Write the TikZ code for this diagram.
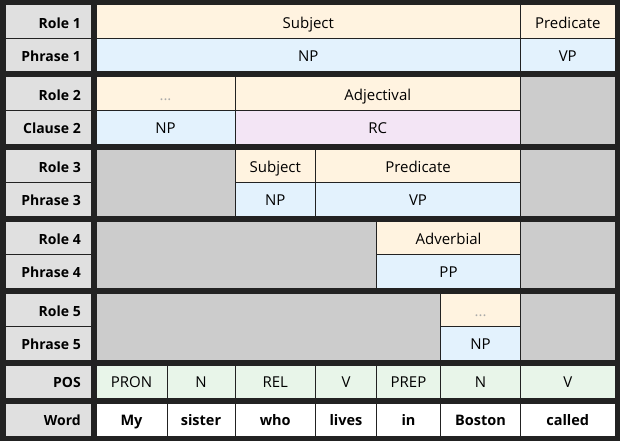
\documentclass[tikz,border=0pt]{standalone}
\usepackage{fontspec}
\setmainfont{Open Sans}
\usetikzlibrary{fit}
\definecolor{bgdark}{HTML}{222222}
\definecolor{lblgray}{HTML}{E0E0E0}
\definecolor{emptygray}{HTML}{CCCCCC}
\definecolor{rolecream}{HTML}{FFF3E0}
\definecolor{phraseblue}{HTML}{E3F2FD}
\definecolor{posgreen}{HTML}{E8F5E9}
\definecolor{rclav}{HTML}{F3E5F5}
\definecolor{dotgray}{HTML}{AAAAAA}
\tikzset{
  cell/.style={draw=bgdark, line width=1pt, inner sep=0pt},
  celltext/.style={inner sep=0pt, anchor=base, font=\fontsize{15}{17}\selectfont, text=black},
  boldtext/.style={inner sep=0pt, anchor=base, font=\bfseries\fontsize{14.5}{17}\selectfont, text=black},
  lblbox/.style={cell, fill=lblgray},
  lbltext/.style={boldtext, font=\bfseries\fontsize{14}{17}\selectfont, anchor=base east},
  rolebox/.style={cell, fill=rolecream},
  phrbox/.style={cell, fill=phraseblue},
  clausebox/.style={cell, fill=rclav},
  posbox/.style={cell, fill=posgreen},
  wordbox/.style={cell, fill=white},
  emptybox/.style={cell, fill=emptygray}
}
\newcommand{\cellat}[6]{\node[#1, fit={(#3,#4) (#5,#6)}] (#2) {};}
\newcommand{\cellt}[7]{\node[#1, fit={(#3,#4) (#5,#6)}] (#2) {};
  \node[celltext] (#2t) at ([yshift=-6.3pt]#2.center) {#7};}
\begin{document}
\begin{tikzpicture}[x=1pt, y=-1pt]
\fill[bgdark] (0,0) rectangle (620,441);
\useasboundingbox (0,0) rectangle (620,441);
% label column
\foreach \nm/\ya/\yb/\tx in {l1a/5/38.5/Role 1, l1b/38.5/72/Phrase 1,
  l2a/77/110.5/Role 2, l2b/110.5/144/Clause 2,
  l3a/149/182.5/Role 3, l3b/182.5/216/Phrase 3,
  l4a/221/254.5/Role 4, l4b/254.5/288/Phrase 4,
  l5a/293/326.5/Role 5, l5b/326.5/360/Phrase 5,
  lpos/365/398/POS, lword/403/436/Word}{
  \node[lblbox, fit={(5,\ya) (91,\yb)}] (\nm) {};
  \node[lbltext] (\nm t) at (81,{(\ya+\yb)/2+6.3}) {\tx};
}
% group 1
\cellt{rolebox}{g1s}{96}{5}{520.5}{38.5}{Subject}
\cellt{rolebox}{g1p}{520.5}{5}{615}{38.5}{Predicate}
\cellt{phrbox}{g1np}{96}{38.5}{520.5}{72}{NP}
\cellt{phrbox}{g1vp}{520.5}{38.5}{615}{72}{VP}
% group 2
\cellt{rolebox}{g2d}{96}{77}{235}{110.5}{\textcolor{dotgray}{...}}
\cellt{rolebox}{g2a}{235}{77}{520.5}{110.5}{Adjectival}
\cellat{emptybox}{g2e}{520.5}{77}{615}{144}
\cellt{phrbox}{g2np}{96}{110.5}{235}{144}{NP}
\cellt{clausebox}{g2rc}{235}{110.5}{520.5}{144}{RC}
% group 3
\cellat{emptybox}{g3e1}{96}{149}{235}{216}
\cellt{rolebox}{g3s}{235}{149}{315.5}{182.5}{Subject}
\cellt{rolebox}{g3p}{315.5}{149}{520.5}{182.5}{Predicate}
\cellat{emptybox}{g3e2}{520.5}{149}{615}{216}
\cellt{phrbox}{g3np}{235}{182.5}{315.5}{216}{NP}
\cellt{phrbox}{g3vp}{315.5}{182.5}{520.5}{216}{VP}
% group 4
\cellat{emptybox}{g4e1}{96}{221}{376.5}{288}
\cellt{rolebox}{g4a}{376.5}{221}{520.5}{254.5}{Adverbial}
\cellat{emptybox}{g4e2}{520.5}{221}{615}{288}
\cellt{phrbox}{g4pp}{376.5}{254.5}{520.5}{288}{PP}
% group 5
\cellat{emptybox}{g5e1}{96}{293}{440.5}{360}
\cellt{rolebox}{g5d}{440.5}{293}{520.5}{326.5}{\textcolor{dotgray}{...}}
\cellat{emptybox}{g5e2}{520.5}{293}{615}{360}
\cellt{phrbox}{g5np}{440.5}{326.5}{520.5}{360}{NP}
% POS and words
\foreach \i/\xa/\xb/\p/\w in {1/96/167/PRON/My, 2/167/235/N/sister, 3/235/315.5/REL/who,
  4/315.5/376.5/V/lives, 5/376.5/440.5/PREP/in, 6/440.5/520.5/N/Boston, 7/520.5/615/V/called}{
  \node[posbox, fit={(\xa,365) (\xb,398)}] (pos\i) {};
  \node[celltext] (pos\i t) at ([yshift=-6.3pt]pos\i.center) {\p};
  \node[wordbox, fit={(\xa,403) (\xb,436)}] (w\i) {};
  \node[boldtext] (w\i t) at ([yshift=-6.3pt]w\i.center) {\w};
}
\end{tikzpicture}
\end{document}
